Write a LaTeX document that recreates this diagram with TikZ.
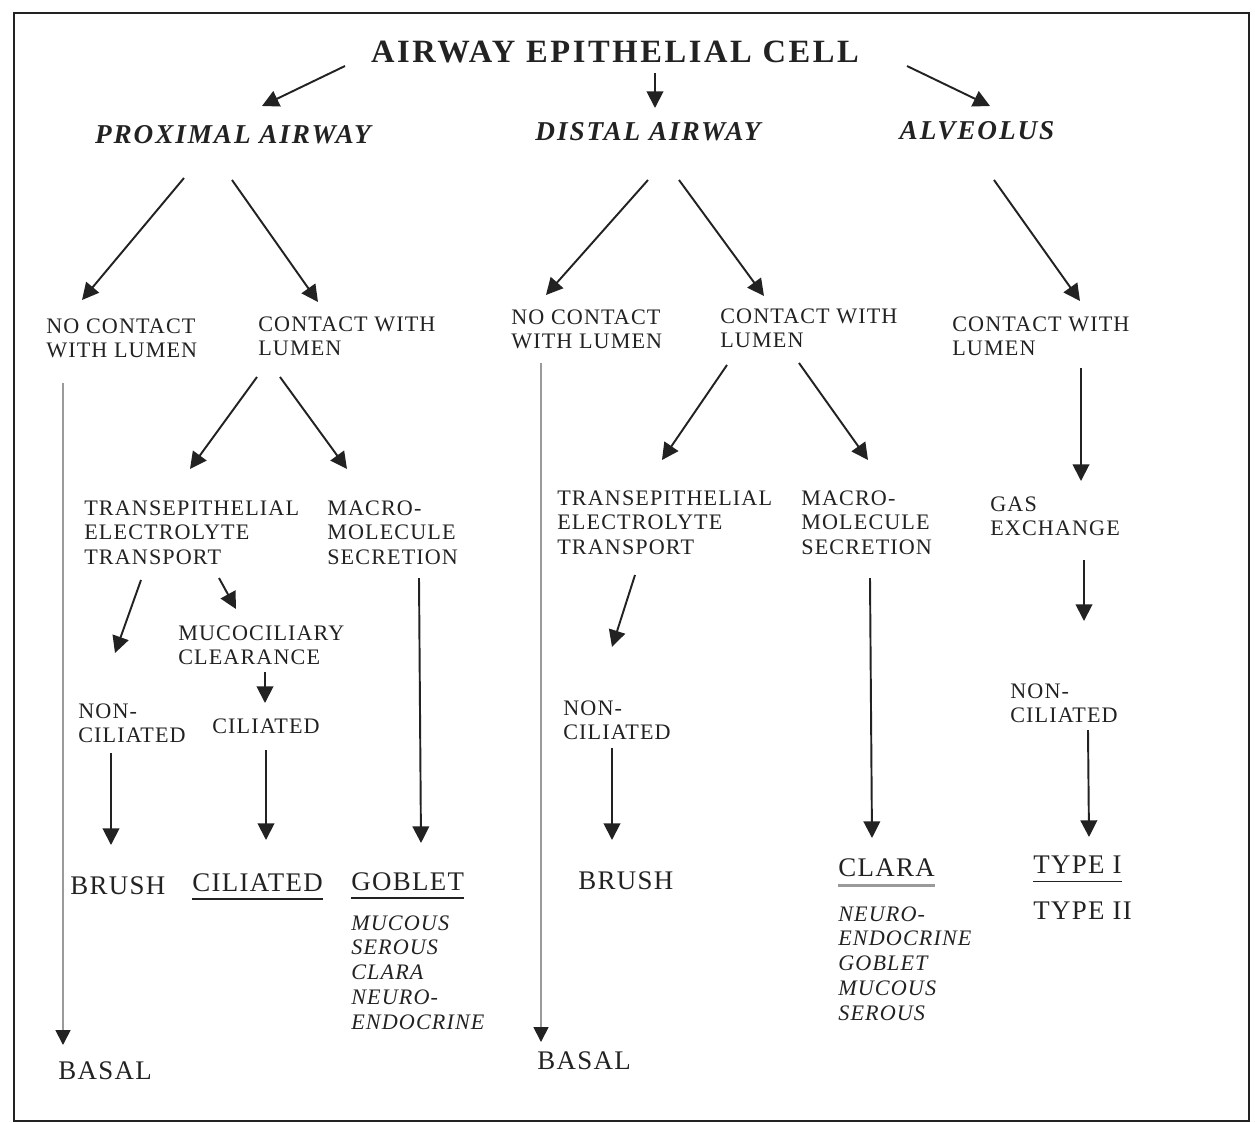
\documentclass[tikz,border=0pt]{standalone}
\usepackage{fontspec}
\setmainfont{Liberation Serif}[LetterSpace=5]
\usetikzlibrary{arrows.meta}

\definecolor{ink}{HTML}{222222}
\definecolor{faint}{HTML}{9A9A9A}

\begin{document}
\begin{tikzpicture}[
    x=0.02cm, y=-0.02cm,
    framebox/.style={
        draw=ink,
        line width=1.2pt,
    },
    txt/.style={
        anchor=north west,
        align=left,
        inner sep=0pt,
        text=ink,
        font=\fontsize{12.6}{14}\selectfont,
    },
    big/.style={
        txt,
        font=\fontsize{15.3}{17}\selectfont,
    },
    celllist/.style={
        txt,
        font=\fontsize{12.6}{14.2}\selectfont\itshape,
    },
    titletext/.style={
        inner sep=0pt,
        text=ink,
        font=\fontsize{18.5}{20}\selectfont\bfseries\addfontfeatures{LetterSpace=8},
    },
    regiontext/.style={
        inner sep=0pt,
        text=ink,
        font=\fontsize{15.5}{17}\selectfont\bfseries\itshape\addfontfeatures{LetterSpace=7},
    },
    arr/.style={
        draw=ink,
        line width=1.1pt,
        -{Triangle[length=9.5pt, width=9.5pt]},
    },
    basalarr/.style={
        draw=faint,
        line width=1pt,
        -{Triangle[length=8.5pt, width=8.5pt, color=ink]},
    },
    uline/.style={
        draw=ink,
        line width=0.9pt,
    },
]
    \useasboundingbox (0,0) rectangle (1255,1123);
    \draw[framebox] (14,13) rectangle (1249,1121);

    % Title and regions
    \node[titletext] (cell) at (615,52) {AIRWAY EPITHELIAL CELL};
    \node[regiontext] (prox) at (233,135) {PROXIMAL AIRWAY};
    \node[regiontext] (dist) at (648,132) {DISTAL AIRWAY};
    \node[regiontext] (alv) at (977,131) {ALVEOLUS};

    % Lumen contact
    \node[txt] (ncA) at (46,318) {NO CONTACT\\WITH LUMEN};
    \node[txt] (cwA) at (258,316) {CONTACT WITH\\LUMEN};
    \node[txt] (ncB) at (511,309) {NO CONTACT\\WITH LUMEN};
    \node[txt] (cwB) at (720,308) {CONTACT WITH\\LUMEN};
    \node[txt] (cwC) at (952,316) {CONTACT WITH\\LUMEN};

    % Functions
    \node[txt] (tetA) at (84,500) {TRANSEPITHELIAL\\ELECTROLYTE\\TRANSPORT};
    \node[txt] (mmsA) at (327,500) {MACRO-\\MOLECULE\\SECRETION};
    \node[txt] (tetB) at (557,490) {TRANSEPITHELIAL\\ELECTROLYTE\\TRANSPORT};
    \node[txt] (mmsB) at (801,490) {MACRO-\\MOLECULE\\SECRETION};
    \node[txt] (gas) at (990,496) {GAS\\EXCHANGE};
    \node[txt] (muc) at (178,625) {MUCOCILIARY\\CLEARANCE};

    % Intermediate types
    \node[txt] (ncilA) at (78,703) {NON-\\CILIATED};
    \node[txt] (cilA) at (212,718) {CILIATED};
    \node[txt] (ncilB) at (563,700) {NON-\\CILIATED};
    \node[txt] (ncilC) at (1010,683) {NON-\\CILIATED};

    % Cell types
    \node[big] (brushA) at (70,876) {BRUSH};
    \node[big] (cilB) at (192,873) {CILIATED};
    \node[big] (gob) at (351,872) {GOBLET};
    \node[big] (brushB) at (578,871) {BRUSH};
    \node[big] (clara) at (838,858) {CLARA};
    \node[big] (typeA) at (1033,856) {TYPE I};
    \node[big] (typeB) at (1033,902) {TYPE II};
    \node[big] (basalA) at (58,1061) {BASAL};
    \node[big] (basalB) at (537,1051) {BASAL};
    \node[celllist] (gobList) at (351,915) {MUCOUS\\SEROUS\\CLARA\\NEURO-\\ENDOCRINE};
    \node[celllist] (claraList) at (838,906) {NEURO-\\ENDOCRINE\\GOBLET\\MUCOUS\\SEROUS};

    % Underlines
    \draw[uline] ([yshift=-4pt]cilB.south west) -- ([yshift=-4pt]cilB.south east);
    \draw[uline] ([yshift=-4pt]gob.south west) -- ([yshift=-4pt]gob.south east);
    \draw[uline, draw=faint, line width=1.6pt] ([yshift=-5pt]clara.south west) -- ([yshift=-5pt]clara.south east);
    \draw[uline] ([yshift=-4pt]typeA.south west) -- ([yshift=-4pt]typeA.south east);

    % Arrow ends
    \coordinate (cell-l) at (345,66);    \coordinate (prox-in) at (262,106);
    \coordinate (cell-m) at (655,73);    \coordinate (dist-in) at (655,108);
    \coordinate (cell-r) at (907,66);    \coordinate (alv-in) at (990,106);
    \coordinate (prox-l) at (184,178);   \coordinate (ncA-in) at (82,300);
    \coordinate (prox-r) at (232,180);   \coordinate (cwA-in) at (318,302);
    \coordinate (dist-l) at (648,180);   \coordinate (ncB-in) at (546,295);
    \coordinate (dist-r) at (679,180);   \coordinate (cwB-in) at (764,296);
    \coordinate (alv-out) at (994,180);  \coordinate (cwC-in) at (1080,301);
    \coordinate (cwA-l) at (257,377);    \coordinate (tetA-in) at (190,469);
    \coordinate (cwA-r) at (280,377);    \coordinate (mmsA-in) at (347,469);
    \coordinate (cwB-l) at (727,365);    \coordinate (tetB-in) at (662,460);
    \coordinate (cwB-r) at (799,363);    \coordinate (mmsB-in) at (868,460);
    \coordinate (cwC-out) at (1081,368); \coordinate (gas-in) at (1081,481);
    \coordinate (tetA-l) at (141,580);   \coordinate (ncilA-in) at (115,653);
    \coordinate (tetA-r) at (219,578);   \coordinate (muc-in) at (236,609);
    \coordinate (muc-out) at (265,672);  \coordinate (cilA-in) at (265,703);
    \coordinate (ncilA-out) at (111,753); \coordinate (brushA-in) at (111,845);
    \coordinate (cilA-out) at (266,750); \coordinate (cilB-in) at (266,840);
    \coordinate (mmsA-out) at (419,578); \coordinate (gob-in) at (421,843);
    \coordinate (tetB-out) at (635,575); \coordinate (ncilB-in) at (612,647);
    \coordinate (ncilB-out) at (612,748); \coordinate (brushB-in) at (612,840);
    \coordinate (mmsB-out) at (870,578); \coordinate (clara-in) at (872,838);
    \coordinate (gas-out) at (1084,560); \coordinate (ncilC-in) at (1084,621);
    \coordinate (ncilC-out) at (1088,730); \coordinate (typeA-in) at (1089,837);
    \coordinate (ncA-out) at (63,383);   \coordinate (basalA-in) at (63,1045);
    \coordinate (ncB-out) at (541,363);  \coordinate (basalB-in) at (541,1042);

    % Arrows
    \draw[arr] (cell-l) -- (prox-in);
    \draw[arr] (cell-m) -- (dist-in);
    \draw[arr] (cell-r) -- (alv-in);
    \draw[arr] (prox-l) -- (ncA-in);
    \draw[arr] (prox-r) -- (cwA-in);
    \draw[arr] (dist-l) -- (ncB-in);
    \draw[arr] (dist-r) -- (cwB-in);
    \draw[arr] (alv-out) -- (cwC-in);
    \draw[arr] (cwA-l) -- (tetA-in);
    \draw[arr] (cwA-r) -- (mmsA-in);
    \draw[arr] (cwB-l) -- (tetB-in);
    \draw[arr] (cwB-r) -- (mmsB-in);
    \draw[arr] (cwC-out) -- (gas-in);
    \draw[arr] (tetA-l) -- (ncilA-in);
    \draw[arr] (tetA-r) -- (muc-in);
    \draw[arr] (muc-out) -- (cilA-in);
    \draw[arr] (ncilA-out) -- (brushA-in);
    \draw[arr] (cilA-out) -- (cilB-in);
    \draw[arr] (mmsA-out) -- (gob-in);
    \draw[arr] (tetB-out) -- (ncilB-in);
    \draw[arr] (ncilB-out) -- (brushB-in);
    \draw[arr] (mmsB-out) -- (clara-in);
    \draw[arr] (gas-out) -- (ncilC-in);
    \draw[arr] (ncilC-out) -- (typeA-in);
    \draw[basalarr] (ncA-out) -- (basalA-in);
    \draw[basalarr] (ncB-out) -- (basalB-in);
\end{tikzpicture}
\end{document}
